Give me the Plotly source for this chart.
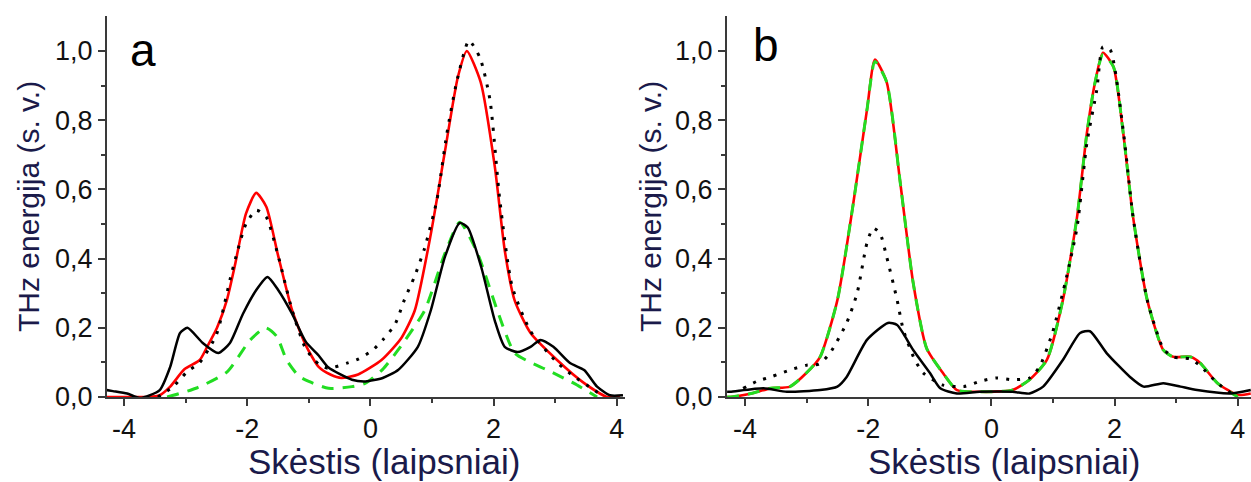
import plotly.graph_objects as go

# ---------------- data ----------------
# Panel a
xa_red = [-4.28, -3.9, -3.6, -3.42, -3.25, -3.02, -2.77, -2.65, -2.49, -2.33, -2.2, -2.02, -1.855, -1.69, -1.5, -1.27, -1.05, -0.84, -0.65, -0.47, -0.2, 0.18, 0.5, 0.72, 0.98, 1.21, 1.42, 1.565, 1.79, 2.02, 2.18, 2.34, 2.6, 3.03, 3.47, 3.84, 4.05]
ya_red = [0.0, 0.0, 0.0, 0.005, 0.03, 0.08, 0.107, 0.145, 0.2, 0.28, 0.38, 0.53, 0.59, 0.55, 0.41, 0.25, 0.15, 0.087, 0.065, 0.055, 0.065, 0.107, 0.17, 0.25, 0.47, 0.71, 0.925, 1.0, 0.91, 0.665, 0.425, 0.28, 0.185, 0.107, 0.04, 0.0, 0.0]

xa_dot = [-3.45, -3.2, -2.98, -2.77, -2.5, -2.25, -2.02, -1.85, -1.69, -1.5, -1.27, -1.05, -0.84, -0.68, -0.38, -0.19, 0.04, 0.2, 0.4, 0.55, 0.72, 0.88, 1.08, 1.24, 1.4, 1.6, 1.78, 1.94, 2.1, 2.3, 2.6, 3.03, 3.3, 3.55, 3.8]
ya_dot = [0.0, 0.03, 0.072, 0.1, 0.18, 0.36, 0.5, 0.54, 0.52, 0.41, 0.25, 0.14, 0.095, 0.083, 0.098, 0.11, 0.136, 0.165, 0.21, 0.28, 0.35, 0.43, 0.57, 0.76, 0.91, 1.03, 0.98, 0.86, 0.57, 0.32, 0.19, 0.1, 0.06, 0.03, 0.0]

xa_blk = [-4.28, -4.18, -3.95, -3.74, -3.42, -3.25, -3.09, -2.97, -2.72, -2.47, -2.28, -2.07, -1.85, -1.67, -1.5, -1.27, -1.05, -0.84, -0.68, -0.3, -0.08, 0.2, 0.45, 0.77, 0.98, 1.21, 1.45, 1.58, 1.8, 2.02, 2.18, 2.39, 2.6, 2.76, 2.97, 3.24, 3.47, 3.68, 3.89, 4.1]
ya_blk = [0.02, 0.017, 0.01, -0.003, 0.02, 0.087, 0.185, 0.2, 0.156, 0.127, 0.156, 0.24, 0.31, 0.347, 0.31, 0.24, 0.16, 0.12, 0.085, 0.05, 0.045, 0.055, 0.078, 0.145, 0.25, 0.405, 0.503, 0.49, 0.375, 0.22, 0.145, 0.13, 0.145, 0.165, 0.145, 0.098, 0.078, 0.03, 0.005, 0.005]

xa_grn = [-3.3, -2.82, -2.33, -1.95, -1.7, -1.52, -1.36, -1.16, -1.0, -0.68, -0.3, -0.08, 0.2, 0.45, 0.88, 1.21, 1.45, 1.74, 2.06, 2.34, 2.6, 2.87, 3.3, 3.68]
ya_grn = [0.0, 0.026, 0.072, 0.165, 0.2, 0.175, 0.107, 0.06, 0.045, 0.025, 0.03, 0.04, 0.08, 0.136, 0.25, 0.415, 0.505, 0.415, 0.25, 0.127, 0.1, 0.078, 0.04, 0.0]

# Panel b
xb_red = [-4.29, -4.24, -3.9, -3.59, -3.27, -3.0, -2.78, -2.5, -2.25, -2.02, -1.89, -1.7, -1.48, -1.27, -1.05, -0.79, -0.56, -0.19, 0.34, 0.62, 0.9, 1.16, 1.39, 1.55, 1.68, 1.81, 1.98, 2.14, 2.3, 2.53, 2.79, 2.95, 3.23, 3.39, 3.67, 4.0, 4.21]
yb_red = [0.0, 0.0, 0.01, 0.025, 0.03, 0.07, 0.116, 0.28, 0.55, 0.83, 0.975, 0.91, 0.62, 0.33, 0.14, 0.07, 0.02, 0.015, 0.02, 0.05, 0.107, 0.28, 0.52, 0.763, 0.907, 0.995, 0.955, 0.763, 0.52, 0.28, 0.136, 0.116, 0.116, 0.098, 0.04, 0.006, 0.01]

xb_grn = [-4.29, -4.24, -3.9, -3.59, -3.27, -3.0, -2.78, -2.5, -2.25, -2.02, -1.89, -1.7, -1.48, -1.27, -1.05, -0.79, -0.56, -0.19, 0.34, 0.62, 0.9, 1.16, 1.39, 1.55, 1.68, 1.81, 1.98, 2.14, 2.3, 2.53, 2.79, 2.95, 3.23, 3.39, 3.67, 4.0]
yb_grn = [0.0, 0.0, 0.01, 0.025, 0.03, 0.07, 0.116, 0.28, 0.55, 0.83, 0.97, 0.91, 0.62, 0.33, 0.14, 0.07, 0.02, 0.015, 0.02, 0.05, 0.107, 0.28, 0.52, 0.763, 0.907, 0.99, 0.955, 0.763, 0.52, 0.28, 0.136, 0.116, 0.116, 0.098, 0.04, 0.0]

xb_dot = [-4.03, -3.81, -3.55, -3.27, -3.0, -2.8, -2.62, -2.35, -2.18, -2.02, -1.92, -1.81, -1.7, -1.53, -1.43, -1.25, -1.11, -0.8, -0.45, -0.19, 0.08, 0.34, 0.62, 0.78, 0.99, 1.22, 1.39, 1.55, 1.71, 1.81, 1.93, 2.14, 2.3, 2.53, 2.79, 2.95, 3.23, 3.39, 3.67, 3.9]
yb_dot = [0.025, 0.045, 0.06, 0.078, 0.092, 0.095, 0.127, 0.214, 0.30, 0.445, 0.488, 0.474, 0.405, 0.28, 0.194, 0.11, 0.07, 0.035, 0.03, 0.045, 0.055, 0.05, 0.055, 0.087, 0.185, 0.347, 0.49, 0.734, 0.887, 1.012, 1.003, 0.77, 0.52, 0.28, 0.14, 0.116, 0.11, 0.09, 0.04, 0.01]

xb_blk = [-4.29, -4.24, -3.7, -3.32, -2.78, -2.5, -2.35, -2.02, -1.68, -1.53, -1.27, -1.0, -0.83, -0.56, -0.19, 0.34, 0.62, 0.84, 1.16, 1.44, 1.6, 1.87, 2.25, 2.47, 2.79, 3.07, 3.34, 3.88, 4.21]
yb_blk = [0.015, 0.015, 0.025, 0.015, 0.02, 0.03, 0.058, 0.165, 0.214, 0.208, 0.136, 0.07, 0.025, 0.01, 0.015, 0.015, 0.01, 0.03, 0.107, 0.185, 0.19, 0.127, 0.058, 0.03, 0.04, 0.03, 0.02, 0.01, 0.02]

x_tickvals = [-4, -2, 0, 2, 4]
x_ticktext = ["-4", "-2", "0", "2", "4"]
x_minor = [-3, -1, 1, 3]
y_tickvals = [0, 0.2, 0.4, 0.6, 0.8, 1.0]
y_ticktext = ["0,0", "0,2", "0,4", "0,6", "0,8", "1,0"]
y_minor = [0.1, 0.3, 0.5, 0.7, 0.9]

x_title = "Skėstis (laipsniai)"
y_title = "THz energija (s. v.)"
panel_labels = ["a", "b"]

# ---------------- figure ----------------
FONT = "Arial, Liberation Sans, sans-serif"
W, H = 1251, 482
RED = "#ff0000"
GREEN = "#22dd22"
BLACK = "#000000"

fig = go.Figure()

def add_panel(xr, yr, xg, yg, xk, yk, xd, yd, xa, ya):
    fig.add_trace(go.Scatter(x=xr, y=yr, mode="lines", xaxis=xa, yaxis=ya,
                             line=dict(color=RED, width=2.6, shape="spline", smoothing=0.6)))
    fig.add_trace(go.Scatter(x=xg, y=yg, mode="lines", xaxis=xa, yaxis=ya,
                             line=dict(color=GREEN, width=3, dash="12px,9px", shape="spline", smoothing=0.6)))
    fig.add_trace(go.Scatter(x=xk, y=yk, mode="lines", xaxis=xa, yaxis=ya,
                             line=dict(color=BLACK, width=2.5, shape="spline", smoothing=0.6)))
    fig.add_trace(go.Scatter(x=xd, y=yd, mode="lines", xaxis=xa, yaxis=ya,
                             line=dict(color=BLACK, width=3, dash="3px,8px", shape="spline", smoothing=0.6)))

add_panel(xa_red, ya_red, xa_grn, ya_grn, xa_blk, ya_blk, xa_dot, ya_dot, "x", "y")
add_panel(xb_red, yb_red, xb_grn, yb_grn, xb_blk, yb_blk, xb_dot, yb_dot, "x2", "y2")

AX = "#3a3a3a"
ydom = [1 - 397 / H, 1 - 16.4 / H]

def xaxis(dom, rng, anchor):
    return dict(domain=dom, range=rng, anchor=anchor, showgrid=False, zeroline=False,
                automargin=False,
                showline=True, linecolor=AX, linewidth=2,
                ticks="outside", ticklen=7, tickwidth=1.6, tickcolor=AX,
                tickvals=x_tickvals, ticktext=x_ticktext,
                tickfont=dict(family=FONT, size=27, color="#111"),
                minor=dict(tickvals=x_minor, ticks="outside", ticklen=4, tickwidth=1.6, tickcolor=AX, showgrid=False))

def yaxis(anchor):
    return dict(domain=ydom, range=[0, 1.1], anchor=anchor, showgrid=False, zeroline=False,
                automargin=False,
                showline=True, linecolor=AX, linewidth=2,
                ticks="outside", ticklen=7, tickwidth=1.6, tickcolor=AX,
                tickvals=y_tickvals, ticktext=y_ticktext,
                tickfont=dict(family=FONT, size=27, color="#111"),
                minor=dict(tickvals=y_minor, ticks="outside", ticklen=4, tickwidth=1.6, tickcolor=AX, showgrid=False))

fig.update_layout(
    width=W, height=H,
    margin=dict(l=0, r=0, t=0, b=0, pad=0, autoexpand=False),
    paper_bgcolor="white", plot_bgcolor="white",
    showlegend=False,
    xaxis=xaxis([107 / W, 625 / W], [-4.276, 4.133], "y"),
    yaxis=yaxis("x"),
    xaxis2=xaxis([727 / W, 1.0], [-4.292, 4.214], "y2"),
    yaxis2=yaxis("x2"),
)

TITLE_COL = "#1a1a4a"
ann = []
for cx in (384, 1004):
    ann.append(dict(text=x_title, x=cx / W, y=0.0, xref="paper", yref="paper",
                    showarrow=False, xanchor="center", yanchor="bottom", borderpad=0,
                    font=dict(family=FONT, size=35, color=TITLE_COL)))
for cx in (28, 650):
    ann.append(dict(text=y_title, x=cx / W, y=1 - 207 / H, xref="paper", yref="paper",
                    showarrow=False, xanchor="center", yanchor="middle", textangle=-90,
                    font=dict(family=FONT, size=30, color=TITLE_COL)))
for lbl, cx, cy in ((panel_labels[0], 143, 50), (panel_labels[1], 766, 45)):
    ann.append(dict(text=lbl, x=cx / W, y=1 - cy / H, xref="paper", yref="paper",
                    showarrow=False, xanchor="center", yanchor="middle",
                    font=dict(family=FONT, size=46, color="black")))
fig.update_layout(annotations=ann)

fig.write_html("out.html")
